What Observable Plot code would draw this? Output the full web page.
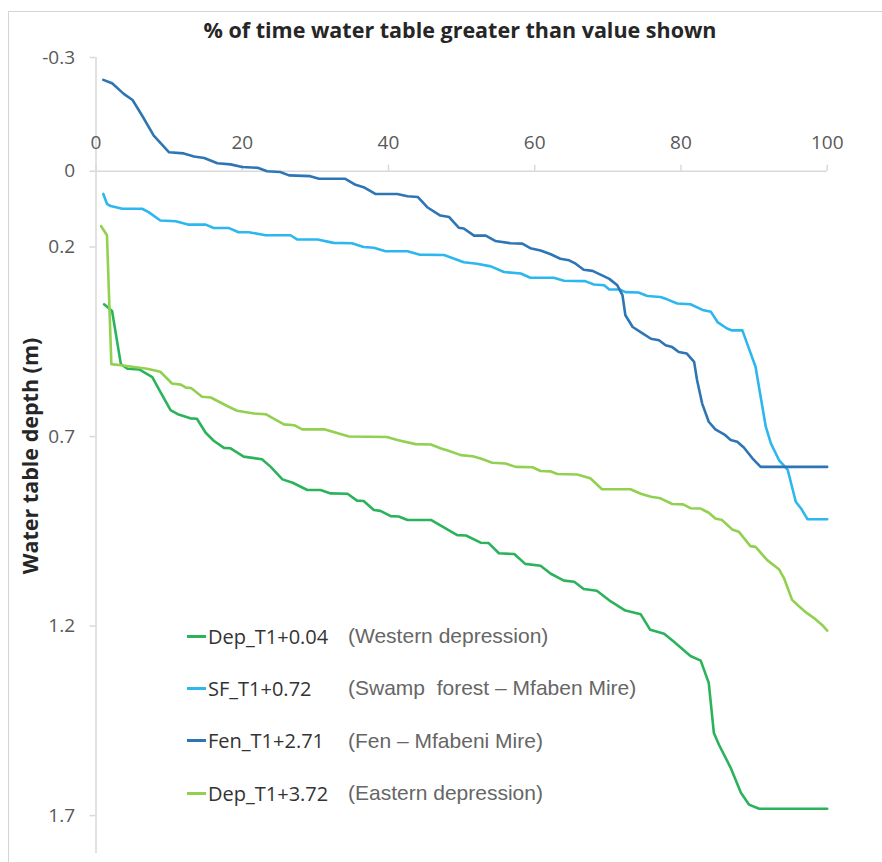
<!DOCTYPE html>
<html><head><meta charset="utf-8">
<script src="https://cdn.jsdelivr.net/npm/d3@7"></script>
<script src="https://cdn.jsdelivr.net/npm/@observablehq/plot@0.6"></script>
<style>
body{margin:0;background:#fff;}
#wrap{position:relative;width:882px;height:862px;overflow:hidden;font-family:"Open Sans",sans-serif;background:#fff;}
#frame{position:absolute;left:8px;top:11px;width:900px;height:900px;border-left:1.5px solid #d4d4d4;border-top:1.5px solid #d4d4d4;}
#chart{position:absolute;left:0;top:0;}
#title{position:absolute;left:0;width:920px;top:15px;text-align:center;font-weight:700;font-size:21.5px;line-height:29px;color:#262626;white-space:nowrap;}
#ylab{position:absolute;left:29px;top:456px;transform:translate(-50%,-50%) rotate(-90deg);white-space:nowrap;font-weight:700;font-size:21.5px;line-height:29px;color:#262626;}
#legend{position:absolute;left:187px;top:610px;}
.row{display:flex;align-items:center;height:52.3px;}
.sw{width:19px;height:3px;margin-right:2px;}
.lab{width:140px;font-size:20px;color:#333;white-space:nowrap;}
.desc{font-family:"Liberation Sans",Arial,sans-serif;font-size:21px;color:#666;white-space:pre;}
</style></head>
<body>
<div id="wrap">
  <div id="frame"></div>
  <div id="chart"></div>
  <div id="title">% of time water table greater than value shown</div>
  <div id="ylab">Water table depth (m)</div>
  <div id="legend"></div>
</div>
<script>
// tick values
const xTicks = [0, 20, 40, 60, 80, 100];
const yTicks = [-0.3, 0, 0.2, 0.7, 1.2, 1.7];

// series: [% of time, water table depth (m)]
const depWest = [[1.1,0.351],[2.2,0.369],[3.4,0.509],[4.3,0.521],[5.9,0.523],[7.7,0.543],[8.8,0.582],[10.2,0.630],[11.3,0.642],[12.9,0.652],[13.8,0.653],[15,0.690],[16.1,0.711],[17.5,0.730],[18.4,0.731],[20.2,0.753],[22.7,0.760],[23.9,0.780],[25.5,0.813],[26.9,0.822],[28.9,0.841],[30.7,0.841],[32.1,0.850],[34.4,0.851],[35.7,0.869],[36.6,0.870],[38,0.894],[38.9,0.896],[40.3,0.910],[41.4,0.911],[42.6,0.920],[45.8,0.920],[49.4,0.960],[50.6,0.961],[52.6,0.980],[53.7,0.981],[55.1,1.008],[57.2,1.010],[58.7,1.036],[60.8,1.041],[62.2,1.062],[64,1.080],[65.4,1.083],[66.7,1.102],[68.5,1.107],[70.4,1.135],[72.4,1.159],[74.5,1.169],[75.8,1.210],[77.7,1.220],[79,1.241],[81.3,1.279],[82.7,1.291],[83.8,1.350],[84.5,1.482],[85.2,1.513],[86.8,1.574],[88.2,1.640],[89.3,1.671],[90.7,1.682],[100,1.682]];

const swampForest = [[1,0.060],[1.5,0.086],[2,0.092],[3.6,0.099],[6.3,0.099],[7.2,0.108],[8.8,0.130],[10.9,0.132],[12.7,0.141],[15,0.141],[16.1,0.150],[18.2,0.150],[19.5,0.161],[20.9,0.161],[23.2,0.169],[26.6,0.169],[27.5,0.180],[30.3,0.180],[32.5,0.189],[35,0.190],[36.6,0.200],[38,0.202],[39.6,0.211],[42.6,0.211],[44.2,0.220],[47.6,0.221],[49,0.231],[50.3,0.240],[52.1,0.244],[54,0.251],[55.8,0.266],[58.1,0.270],[59.4,0.281],[62.6,0.281],[64,0.289],[66.9,0.290],[68.1,0.299],[69.5,0.301],[70.2,0.312],[71.6,0.312],[72.4,0.319],[74.2,0.320],[75.4,0.329],[77.2,0.332],[78.1,0.338],[79.5,0.349],[81.3,0.351],[83.1,0.367],[84.1,0.371],[85,0.398],[86.3,0.415],[87,0.420],[88.4,0.420],[89.3,0.468],[90.2,0.516],[90.9,0.595],[91.6,0.674],[92.3,0.718],[93.4,0.762],[94.6,0.788],[95.3,0.841],[95.7,0.872],[96.4,0.889],[97.3,0.918],[100,0.918]];

const fen = [[1,-0.241],[2.2,-0.232],[3.8,-0.204],[5,-0.188],[6.3,-0.147],[7.9,-0.094],[10,-0.050],[12,-0.047],[13.4,-0.039],[14.8,-0.035],[16.6,-0.021],[18.4,-0.018],[20,-0.011],[22.1,-0.009],[23.4,0.0],[25.2,0.002],[26.4,0.011],[29.3,0.013],[30.5,0.020],[34.1,0.020],[35.5,0.036],[36.6,0.042],[38.2,0.060],[41.2,0.060],[42.6,0.066],[44,0.068],[45.3,0.095],[47.1,0.117],[48.3,0.121],[49.6,0.149],[50.3,0.151],[51.7,0.170],[53.3,0.170],[54.6,0.184],[56.7,0.190],[58.3,0.191],[59.4,0.203],[60.8,0.209],[62.2,0.219],[63.5,0.231],[64.7,0.235],[65.6,0.244],[66.7,0.260],[67.9,0.263],[69,0.273],[70.2,0.284],[71.3,0.301],[72,0.327],[72.4,0.380],[73.4,0.411],[74.7,0.427],[75.9,0.442],[77,0.446],[77.9,0.459],[78.8,0.464],[79.7,0.477],[80.8,0.481],[81.8,0.503],[82.2,0.551],[82.9,0.613],[83.8,0.661],[84.7,0.681],[85.9,0.694],[86.8,0.709],[87.7,0.714],[88.6,0.729],[89.8,0.758],[90.9,0.780],[100,0.780]];

const depEast = [[0.7,0.145],[1.5,0.169],[2.1,0.509],[3.4,0.512],[7,0.521],[8.8,0.529],[10.4,0.560],[11.6,0.563],[12.3,0.571],[13,0.572],[14.5,0.595],[15.7,0.597],[18,0.620],[19.3,0.632],[21.6,0.639],[23.2,0.641],[25.7,0.668],[27.1,0.670],[28.2,0.681],[31.2,0.681],[34.6,0.700],[39.8,0.701],[41.2,0.709],[43.7,0.720],[45.8,0.721],[47.1,0.731],[48.3,0.738],[49.9,0.749],[51.5,0.752],[52.6,0.758],[54.2,0.769],[56,0.771],[57.4,0.780],[59.7,0.781],[60.8,0.791],[62.2,0.792],[63.1,0.799],[65.8,0.800],[67.6,0.810],[69.2,0.839],[73.1,0.839],[74.5,0.851],[75.9,0.859],[77.2,0.863],[78.8,0.878],[80.3,0.879],[81.3,0.889],[82.7,0.890],[83.8,0.901],[84.7,0.916],[85.6,0.920],[87,0.945],[87.9,0.951],[89.5,0.989],[90.2,0.991],[91.8,1.026],[93.4,1.050],[94.1,1.074],[95.2,1.131],[96.1,1.147],[97.1,1.164],[98.2,1.179],[99.3,1.197],[100,1.212]];

const seriesNames = ["Dep_T1+0.04", "SF_T1+0.72", "Fen_T1+2.71", "Dep_T1+3.72"];
const seriesNotes = ["(Western depression)", "(Swamp  forest – Mfaben Mire)", "(Fen – Mfabeni Mire)", "(Eastern depression)"];
const seriesColors = ["#2bb35c", "#2db7ef", "#2e75b6", "#92d050"];
const seriesData = [depWest, swampForest, fen, depEast];

const axisColor = "#d9d9d9";

const lineMarks = seriesData.map((data, i) =>
  Plot.line(data, {x: d => d[0], y: d => d[1], stroke: seriesColors[i], strokeWidth: 2.6, strokeLinejoin: "round"})
);

const chart = Plot.plot({
  width: 882,
  height: 862,
  marginLeft: 95.5,
  marginRight: 55.3,
  marginTop: 57,
  marginBottom: 9,
  style: {fontFamily: "Open Sans", fontSize: "19px", color: "#595959", background: "transparent"},
  x: {domain: [0, 100], axis: null},
  y: {domain: [-0.3, 1.8], reverse: true, axis: null},
  marks: [
    Plot.ruleX([0], {stroke: axisColor, strokeWidth: 1.5}),
    Plot.ruleY([0], {stroke: axisColor, strokeWidth: 1.5}),
    Plot.ruleX(xTicks, {x: d => d, y1: 0, y2: 0, insetTop: -6, stroke: axisColor, strokeWidth: 1.5}),
    Plot.text(xTicks, {x: d => d, y: 0, dy: -28, text: d => String(d), fill: "#595959", fontSize: 19}),
    Plot.axisY(yTicks, {anchor: "left", tickSize: 6, tickPadding: 15, tickFormat: d => String(d), stroke: axisColor, strokeWidth: 1.5, fill: "#595959", label: null, fontSize: 19}),
    ...lineMarks
  ]
});
document.getElementById("chart").appendChild(chart);

const legend = document.getElementById("legend");
seriesNames.forEach((name, i) => {
  const row = document.createElement("div");
  row.className = "row";
  const sw = document.createElement("span"); sw.className = "sw"; sw.style.background = seriesColors[i];
  const lab = document.createElement("span"); lab.className = "lab"; lab.textContent = name;
  const desc = document.createElement("span"); desc.className = "desc"; desc.textContent = seriesNotes[i];
  row.append(sw, lab, desc);
  legend.appendChild(row);
});
</script>
</body></html>
